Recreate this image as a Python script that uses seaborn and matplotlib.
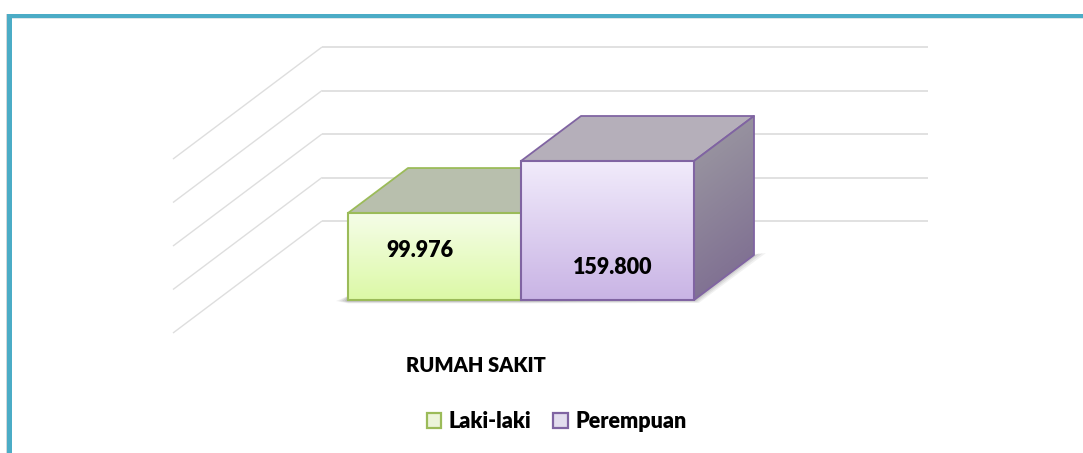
import numpy as np
import pandas as pd
import matplotlib
matplotlib.use('Agg')
import matplotlib.pyplot as plt
import seaborn as sns
from matplotlib.patches import Polygon, Rectangle
from matplotlib.transforms import IdentityTransform

# data
category = ['RUMAH SAKIT']
series = ['Laki-laki', 'Perempuan']
values = [99976, 159800]
grid_levels = [0, 50000, 100000, 150000, 200000]

# style
W, H = 1083, 453
PX_PER_VALUE = 139 / 159800
BASE_PX = 300
BAR_PX = 173
DEPTH_X, DEPTH_Y = 60, 45
WALL_LEFT, WALL_RIGHT = 322, 928
WALL_BASE = 221
EDGE = ['#9BBB59', '#8064A2']
LEGEND_FILL = ['#EEF8D6', '#E2DAF1']
FRONT_GRAD = [('#F5FDE8', '#DCF9A6'), ('#F1EBFB', '#C9B4E5')]
TOP_FACE = ['#B8BFAD', '#B5AFBA']
TEAL = '#4BACC6'

sns.set_theme(style='white')
plt.rcParams['font.family'] = ['Lato', 'DejaVu Sans']

df = pd.DataFrame({'kategori': category * 2, 'jenis': series, 'jumlah': values})

fig = plt.figure(figsize=(W / 100, H / 100), dpi=100)
ax = fig.add_axes([0, 0, 1, 1])
sns.barplot(data=df, x='kategori', y='jumlah', hue='jenis', palette=LEGEND_FILL,
            width=0.8, gap=0, ax=ax, zorder=3)

# scales chosen so that one bar is BAR_PX wide and the base sits at BASE_PX
unit = BAR_PX / 0.4
xlim = (-521 / unit, (W - 521) / unit)
ylim = (-(H - BASE_PX) / PX_PER_VALUE, BASE_PX / PX_PER_VALUE)
ax.set_xlim(xlim)
ax.set_ylim(ylim)
ax.set_xlabel('')
ax.set_ylabel('')
ax.set_xticks([])
ax.set_yticks([])
sns.despine(ax=ax, left=True, bottom=True)


def flip(points):
    return [(x, H - y) for x, y in points]


def poly(points, zorder, **kw):
    p = Polygon(flip(points), closed=True, transform=IdentityTransform(), zorder=zorder, **kw)
    ax.add_patch(p)
    return p


def gradient(points, c0, c1, zorder, diagonal=False):
    # gradient fill clipped to a face, in pixel coordinates
    xs = [p[0] for p in points]
    ys = [p[1] for p in points]
    rgb0 = np.array(matplotlib.colors.to_rgb(c0))
    rgb1 = np.array(matplotlib.colors.to_rgb(c1))
    t = np.linspace(0, 1, 200)
    if diagonal:
        tt = (t[:, None] * 0.8 + t[None, :] * 0.2)
    else:
        tt = t[:, None] * np.ones((200, 2))
    img = rgb0 + (rgb1 - rgb0) * tt[..., None]
    im = ax.imshow(img, extent=(min(xs), max(xs), H - max(ys), H - min(ys)), aspect='auto',
                   origin='upper', zorder=zorder, interpolation='bilinear',
                   transform=IdentityTransform())
    clip = Polygon(flip(points), closed=True, transform=IdentityTransform())
    im.set_clip_path(clip)


def line(points, lw):
    pts = flip(points)
    ax.plot([p[0] for p in pts], [p[1] for p in pts], color='#DEDEDE', lw=lw,
            transform=IdentityTransform(), zorder=1, solid_capstyle='butt')


# gridlines on the back wall and the floor
for level in grid_levels:
    wy = WALL_BASE - level * PX_PER_VALUE
    line([(173, wy + 112), (WALL_LEFT, wy)], 1.0)
    line([(WALL_LEFT, wy), (WALL_RIGHT, wy)], 1.3)

# legend is taken from the seaborn bars before they get their gradient
handles, labels = ax.get_legend_handles_labels()
for h, e in zip(handles, EDGE):
    h.set_edgecolor(e)
    h.set_linewidth(1.6)
ax.legend(handles, labels, loc='center', bbox_to_anchor=(556.5 / W, 1 - 421.5 / H), ncol=2, frameon=False,
          prop={'weight': 'heavy', 'size': 15.5}, handlelength=0.66, handleheight=0.66,
          handletextpad=0.35, columnspacing=1.05, labelcolor='black')

bars = list(ax.containers)
for i, cont in enumerate(bars):
    patch = cont[0]
    corners = ax.transData.transform([(patch.get_x(), 0),
                                      (patch.get_x() + patch.get_width(), patch.get_height())])
    x0, x1 = corners[0][0], corners[1][0]
    yb, yt = H - corners[0][1], H - corners[1][1]
    z = 4 + i * 2
    e = EDGE[i]
    patch.set_visible(False)

    # soft shadow, stacked layers that reach less far each time
    for reach, a in [(12, 0.07), (9, 0.09), (6, 0.11), (3, 0.14), (0, 0.18)]:
        if i == 0:
            shadow = [(x0 - reach, yb + 1), (x0, yb - 4), (x1, yb - 4), (x1, yb + 1 + reach * 0.2), (x0, yb + 1 + reach * 0.2)]
        else:
            shadow = [(x0, yb), (x1, yb - 5), (x1 + DEPTH_X, yb - DEPTH_Y), (x1 + DEPTH_X + reach, yb - DEPTH_Y - 2),
                      (x1 + reach * 0.4, yb + reach * 0.25), (x0, yb + 1 + reach * 0.2)]
        poly(shadow, 2, facecolor='#444444', edgecolor='none', alpha=a)

    top = [(x0, yt), (x0 + DEPTH_X, yt - DEPTH_Y), (x1 + DEPTH_X, yt - DEPTH_Y), (x1, yt)]
    poly(top, z, facecolor=TOP_FACE[i], edgecolor=e, lw=1.3, joinstyle='round')

    if i == len(bars) - 1:
        side = [(x1, yt), (x1 + DEPTH_X, yt - DEPTH_Y), (x1 + DEPTH_X, yb - DEPTH_Y), (x1, yb)]
        gradient(side, '#9E9CA3', '#7A688F', z, diagonal=True)
        poly(side, z + 0.5, facecolor='none', edgecolor=e, lw=1.3, joinstyle='round')

    front = [(x0, yt), (x1, yt), (x1, yb), (x0, yb)]
    gradient(front, FRONT_GRAD[i][0], FRONT_GRAD[i][1], z + 0.6)
    poly(front, z + 0.7, facecolor='none', edgecolor=e, lw=1.5, joinstyle='miter')

    # value labels
    label = f'{values[i]:,}'.replace(',', '.')
    cx = 420 if i == 0 else 613
    cy = 250.5 if i == 0 else 267.5
    ax.text(cx, H - cy, label, transform=IdentityTransform(), ha='center', va='center',
            fontsize=15.5, fontweight='heavy', color='black', zorder=10)

ax.set_xlim(xlim)
ax.set_ylim(ylim)

# category label
ax.text(476, H - 365.5, category[0], transform=IdentityTransform(), ha='center', va='center',
        fontsize=14.5, fontweight='heavy', color='black', zorder=10)

# frame of the picture: teal line on the top and left with a thin grey shadow
fig.patches.extend([
    Rectangle((6, 0), 1, H - 14, transform=IdentityTransform(), facecolor='#D4D8DA', lw=0, zorder=0),
    Rectangle((7, H - 14 - 3.5), W - 7, 3.5, transform=IdentityTransform(), facecolor=TEAL, lw=0, zorder=20),
    Rectangle((7, 0), 5, H - 14, transform=IdentityTransform(), facecolor=TEAL, lw=0, zorder=20),
    Rectangle((12, H - 18.5), W - 12, 1, transform=IdentityTransform(), facecolor='#DCE6EA', lw=0, zorder=20),
])

fig.savefig('out.png', dpi=100)
